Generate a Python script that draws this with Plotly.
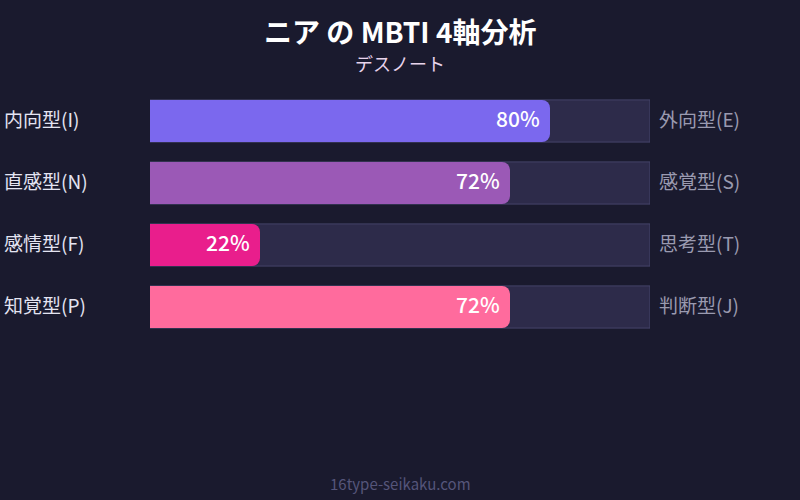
import plotly.graph_objects as go

# MBTI axes, top to bottom
axes = ["I/E", "N/S", "F/T", "P/J"]
left_labels = ["内向型(I)", "直感型(N)", "感情型(F)", "知覚型(P)"]
right_labels = ["外向型(E)", "感覚型(S)", "思考型(T)", "判断型(J)"]
scores = [80, 72, 22, 72]
full = [100, 100, 100, 100]
bar_colors = ["#7b68ee", "#9b59b6", "#e91e8c", "#ff6b9d"]

FONT = "Noto Sans CJK JP"
BG = "#1a1a2e"

fig = go.Figure()

# background track
fig.add_trace(go.Bar(
    x=full,
    y=axes,
    orientation="h",
    marker=dict(color="#2d2b4a", line=dict(color="#45446a", width=1)),
    width=0.68,
    hoverinfo="skip",
    showlegend=False
))

# score bars (own y axis so they sit on top of the track)
fig.add_trace(go.Bar(
    x=scores,
    y=axes,
    yaxis="y2",
    orientation="h",
    marker=dict(color=bar_colors, cornerradius=8, line=dict(width=0)),
    width=0.68,
    hoverinfo="skip",
    showlegend=False
))

# percent labels near the bar end
for ax, val in zip(axes, scores):
    fig.add_annotation(
        x=val, y=ax, xref="x", yref="y",
        text=f"{val}%", showarrow=False,
        xanchor="right", xshift=-8, yshift=3,
        font=dict(family=FONT, size=21, color="#ffffff", weight=500)
    )

for ax, lab in zip(axes, left_labels):
    fig.add_annotation(
        x=-0.296, y=ax, xref="paper", yref="y",
        text=lab, showarrow=False, xanchor="left", yshift=3,
        font=dict(family=FONT, size=19, color="#e4e4f2")
    )

for ax, lab in zip(axes, right_labels):
    fig.add_annotation(
        x=1.014, y=ax, xref="paper", yref="y",
        text=lab, showarrow=False, xanchor="left", yshift=3,
        font=dict(family=FONT, size=19, color="#9a9ab0")
    )

# title, subtitle, footer
fig.add_annotation(
    x=0.5, y=1.0, xref="paper", yref="paper", yshift=59,
    xanchor="center", yanchor="middle",
    text="<b>ニア の MBTI 4軸分析</b>", showarrow=False,
    font=dict(family=FONT, size=28, color="#ffffff")
)
fig.add_annotation(
    x=0.5, y=1.0, xref="paper", yref="paper", yshift=27,
    xanchor="center", yanchor="middle",
    text="デスノート", showarrow=False,
    font=dict(family=FONT, size=18, color="#e8d4ec")
)
fig.add_annotation(
    x=0.5, y=0.0, xref="paper", yref="paper", yshift=-145,
    xanchor="center", yanchor="middle",
    text="16type-seikaku.com", showarrow=False,
    font=dict(family=FONT, size=15, color="#55557a")
)

fig.update_layout(
    width=800,
    height=500,
    paper_bgcolor=BG,
    plot_bgcolor=BG,
    barmode="group",
    margin=dict(l=150, r=150, t=90, b=162),
    font=dict(family=FONT),
    xaxis=dict(range=[0, 100], visible=False, fixedrange=True),
    yaxis=dict(
        categoryorder="array",
        categoryarray=axes[::-1],
        visible=False,
        fixedrange=True
    ),
    yaxis2=dict(
        overlaying="y",
        matches="y",
        visible=False,
        fixedrange=True
    )
)

fig.write_html(
    "out.html",
    config={"displayModeBar": False},
    post_script="document.body.style.margin='0';"
)
